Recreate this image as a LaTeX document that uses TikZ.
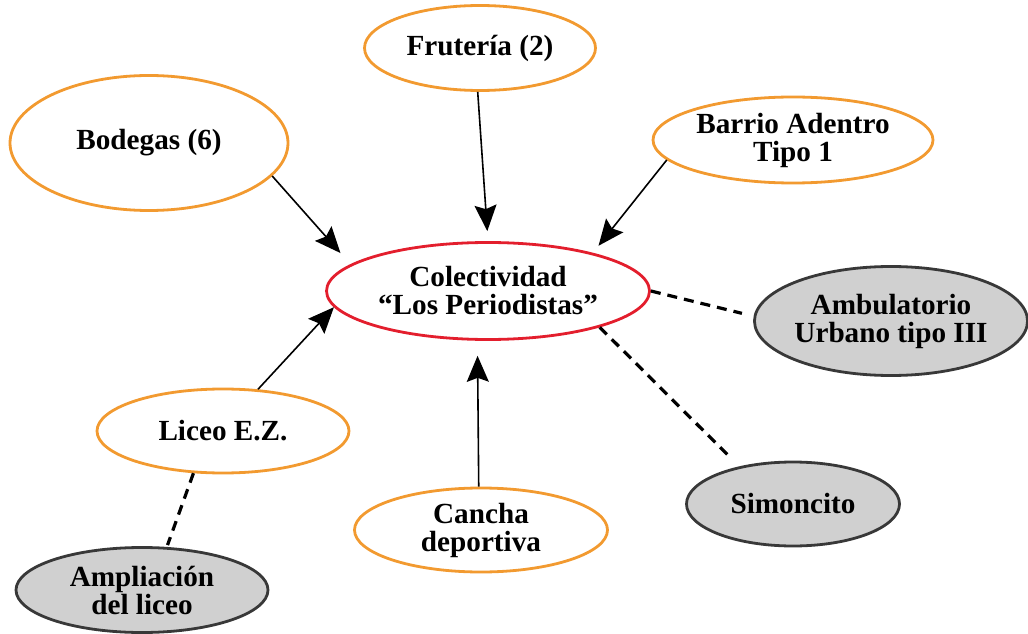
\documentclass[tikz,border=0pt]{standalone}
\usepackage{fontspec}
\setmainfont{Liberation Serif}
\usetikzlibrary{shapes.geometric,arrows.meta}
\definecolor{naranja}{HTML}{F29A30}
\definecolor{rojo}{HTML}{E31E2D}
\definecolor{gris}{HTML}{D0D0D0}
\definecolor{borde}{HTML}{383838}
\tikzset{
  burbuja/.style={ellipse,draw=naranja,line width=1.4pt,inner sep=0pt,align=center,
    font=\bfseries\fontsize{14.6}{14}\selectfont},
  centro/.style={burbuja,draw=rojo},
  futuro/.style={burbuja,draw=borde,fill=gris,line width=1.4pt},
  flecha/.style={line width=0.8pt,-{Stealth[length=13pt,width=11pt,inset=2pt]}},
  enlace/.style={line width=1.6pt,dash pattern=on 5pt off 3.5pt}
}
\begin{document}
\begin{tikzpicture}[x=0.5pt,y=0.5pt]
  \useasboundingbox (0,0) rectangle (1028,633);
  % nodos
  \node[centro,minimum width=161.5pt,minimum height=48.5pt] (col) at (488,342) {Colectividad\\“Los Periodistas”};
  \node[burbuja,minimum width=139pt,minimum height=67.5pt] (bod) at (149,490) {Bodegas (6)};
  \node[burbuja,minimum width=115.5pt,minimum height=42.5pt] (fru) at (480,585) {Frutería (2)};
  \node[burbuja,minimum width=140pt,minimum height=43pt] (bar) at (793,493) {Barrio Adentro\\Tipo 1};
  \node[burbuja,minimum width=126pt,minimum height=42pt] (lic) at (223,202) {Liceo E.Z.};
  \node[burbuja,minimum width=126.5pt,minimum height=42pt] (can) at (481,103) {Cancha\\deportiva};
  \node[futuro,minimum width=134pt,minimum height=54.5pt] (amb) at (891,312) {Ambulatorio\\Urbano tipo III};
  \node[futuro,minimum width=106.5pt,minimum height=42pt] (sim) at (793,129) {Simoncito};
  \node[futuro,minimum width=126pt,minimum height=42.5pt] (amp) at (142,43) {Ampliación\\del liceo};
  % flechas
  \draw[flecha,shorten >=7.5pt] (bod.-15) -- (col.169);
  \draw[flecha,shorten >=5pt] (fru.-93) -- (col.90);
  \draw[flecha,shorten >=4.5pt] (bar.189) -- (col.20);
  \draw[flecha] (lic.50) -- (col.186);
  \draw[flecha,shorten >=7.5pt] (can.93) -- (col.-102);
  % lineas discontinuas
  \draw[enlace,shorten >=6pt] (col.0) -- (amb.178);
  \draw[enlace,shorten >=6.5pt] (col.-18) -- (sim.145);
  \draw[enlace,shorten >=1pt] (lic.-125) -- (amp.60);
\end{tikzpicture}
\end{document}
